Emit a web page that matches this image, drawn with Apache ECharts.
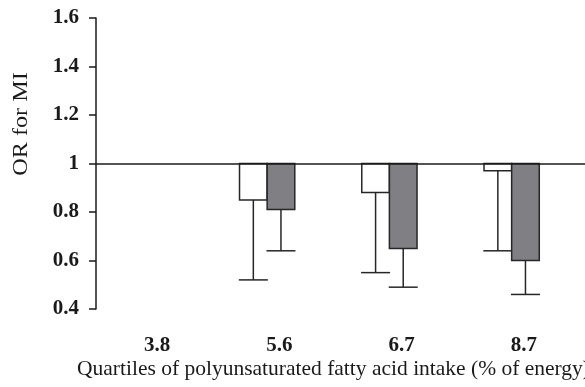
<!DOCTYPE html>
<html>
<head>
<meta charset="utf-8">
<script src="https://cdn.jsdelivr.net/npm/echarts@6/dist/echarts.min.js"></script>
<style>
  html, body { margin: 0; padding: 0; background: #fff; }
  #chart { width: 585px; height: 387px; }
</style>
</head>
<body>
<div id="chart"></div>
<script>
// quartile medians (% of energy)
const categories = ['3.8', '5.6', '6.7', '8.7']
// odds ratios, lower 95% CI bound (first quartile is the reference)
const whiteOR = [1, 0.85, 0.88, 0.97]
const whiteLower = [null, 0.52, 0.55, 0.64]
const greyOR = [1, 0.81, 0.65, 0.60]
const greyLower = [null, 0.64, 0.49, 0.46]
const refValue = 1
const yTicks = { min: 0.4, max: 1.6, interval: 0.2 }

const serif = '"Liberation Serif", "DejaVu Serif", serif'
const ink = '#1a1a1a'

// side 0 = left (white) bar, side 1 = right (grey) bar
function makeRender(fill, side) {
  return function (params, api) {
    const idx = api.value(0)
    const v = api.value(1)
    const lo = api.value(2)
    const band = api.size([1, 0])[0]
    const top = api.coord([idx, refValue])
    const bottomY = api.coord([idx, v])[1]
    const w = band * 0.226
    const gx = top[0] - band * 0.1
    const x0 = side === 0 ? gx - w : gx
    const cx = x0 + w / 2
    const children = []
    if (v < refValue) {
      children.push({
        type: 'rect',
        shape: { x: x0, y: top[1], width: w, height: bottomY - top[1] },
        style: { fill: fill, stroke: '#262626', lineWidth: 1.5 }
      })
    }
    if (!isNaN(lo)) {
      const loY = api.coord([idx, lo])[1]
      children.push({
        type: 'line',
        shape: { x1: cx, y1: bottomY, x2: cx, y2: loY },
        style: { stroke: '#262626', lineWidth: 1.5 }
      })
      children.push({
        type: 'line',
        shape: { x1: cx - 14.5, y1: loY, x2: cx + 14.5, y2: loY },
        style: { stroke: '#262626', lineWidth: 1.5 }
      })
    }
    return { type: 'group', children: children }
  }
}

const chart = echarts.init(document.getElementById('chart'))

chart.setOption({
  animation: false,
  backgroundColor: '#fff',
  grid: { left: 96, top: 18, width: 496, height: 291 },
  xAxis: {
    type: 'category',
    data: categories,
    axisLine: { show: false },
    axisTick: { show: false },
    axisLabel: {
      margin: 26,
      fontFamily: serif,
      fontWeight: 'bold',
      fontSize: 21,
      color: ink
    }
  },
  yAxis: {
    type: 'value',
    min: yTicks.min,
    max: yTicks.max,
    interval: yTicks.interval,
    splitLine: { show: false },
    axisLine: { show: true, lineStyle: { color: ink, width: 1.5 } },
    axisTick: { show: true, length: 7, lineStyle: { color: ink, width: 1.5 } },
    axisLabel: {
      margin: 17,
      fontFamily: serif,
      fontWeight: 'bold',
      fontSize: 21,
      color: ink
    }
  },
  graphic: [
    {
      type: 'text',
      x: 21,
      y: 124,
      rotation: Math.PI / 2,
      scaleX: 1.1,
      style: {
        text: 'OR for MI',
        font: '22px ' + serif,
        fill: ink,
        align: 'center',
        verticalAlign: 'middle'
      }
    },
    {
      type: 'text',
      left: 77,
      top: 358,
      style: {
        text: 'Quartiles of polyunsaturated fatty acid intake (% of energy)',
        font: '21.5px ' + serif,
        fill: ink
      }
    }
  ],
  series: [
    {
      type: 'custom',
      name: 'white',
      clip: false,
      renderItem: makeRender('#ffffff', 0),
      data: categories.map((c, i) => [i, whiteOR[i], whiteLower[i] == null ? '-' : whiteLower[i]]),
      markLine: {
        silent: true,
        symbol: 'none',
        label: { show: false },
        lineStyle: { color: ink, width: 1.5, type: 'solid' },
        data: [{ yAxis: refValue }]
      }
    },
    {
      type: 'custom',
      name: 'grey',
      clip: false,
      renderItem: makeRender('#7f7f84', 1),
      data: categories.map((c, i) => [i, greyOR[i], greyLower[i] == null ? '-' : greyLower[i]])
    }
  ]
})
</script>
</body>
</html>
